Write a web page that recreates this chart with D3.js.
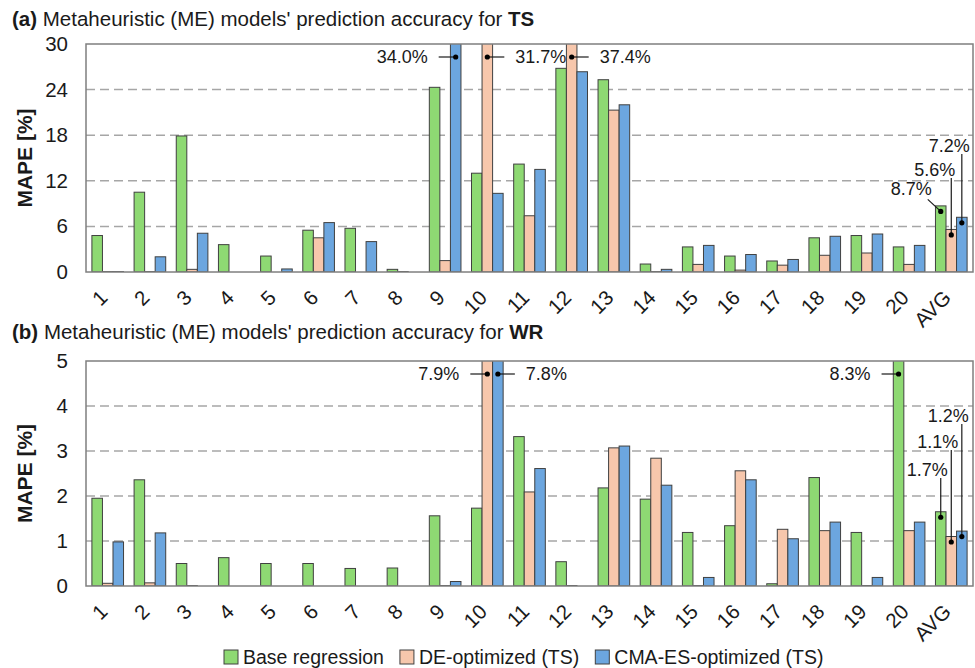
<!DOCTYPE html>
<html>
<head>
<meta charset="utf-8">
<script src="https://cdn.jsdelivr.net/npm/d3@7"></script>
<style>
  body { margin: 0; background: #fff; }
  text { font-family: "Liberation Sans", Arial, sans-serif; fill: #1a1a1a; }
</style>
</head>
<body>
<div class="container"></div>
<script>
// categories and series
const categories = ['1','2','3','4','5','6','7','8','9','10','11','12','13','14','15','16','17','18','19','20','AVG'];
const seriesNames = ['Base regression', 'DE-optimized (TS)', 'CMA-ES-optimized (TS)'];
const seriesColors = ['#8ed973', '#f7c7ac', '#6ca6df'];

// (a) TS, MAPE [%]
const tsBase = [4.8, 10.5, 17.9, 3.6, 2.1, 5.5, 5.75, 0.35, 24.3, 13.0, 14.2, 26.8, 25.3, 1.05, 3.3, 2.1, 1.45, 4.5, 4.8, 3.3, 8.7];
const tsDE   = [0.05, 0.05, 0.35, 0, 0, 4.5, 0, 0.05, 1.5, 31.7, 7.4, 37.4, 21.3, 0.05, 1.0, 0.25, 0.9, 2.2, 2.5, 1.0, 5.6];
const tsCMA  = [0.05, 2.0, 5.1, 0, 0.4, 6.5, 4.0, 0, 34.0, 10.35, 13.5, 26.35, 22.0, 0.35, 3.5, 2.3, 1.65, 4.7, 5.0, 3.5, 7.2];
const tsTicks = [0, 6, 12, 18, 24, 30];

// (b) WR, MAPE [%]
const wrBase = [1.95, 2.36, 0.5, 0.63, 0.5, 0.5, 0.39, 0.4, 1.56, 1.73, 3.32, 0.54, 2.18, 1.93, 1.19, 1.34, 0.05, 2.41, 1.19, 8.3, 1.65];
const wrDE   = [0.06, 0.07, 0.01, 0, 0, 0, 0, 0, 0.01, 7.9, 2.09, 0.01, 3.07, 2.84, 0.01, 2.56, 1.26, 1.23, 0.01, 1.23, 1.1];
const wrCMA  = [0.98, 1.18, 0, 0, 0, 0, 0, 0, 0.1, 7.8, 2.61, 0, 3.11, 2.24, 0.19, 2.36, 1.05, 1.42, 0.19, 1.42, 1.22];
const wrTicks = [0, 1, 2, 3, 4, 5];

// value callouts: [category, series index, label, placement]
const tsCallouts = [['9', 2, '34.0%', 'left'], ['10', 1, '31.7%', 'right'], ['12', 1, '37.4%', 'right'],
                    ['AVG', 0, '8.7%', 'diag'], ['AVG', 1, '5.6%', 'up1'], ['AVG', 2, '7.2%', 'up2']];
const wrCallouts = [['10', 1, '7.9%', 'left'], ['10', 2, '7.8%', 'right'], ['20', 0, '8.3%', 'left'],
                    ['AVG', 0, '1.7%', 'up0'], ['AVG', 1, '1.1%', 'up1'], ['AVG', 2, '1.2%', 'up2']];

const LEFT = 86, RIGHT = 973;

var display = function () {
  var svg = d3.select('.container').append('svg')
    .attr('width', 975)
    .attr('height', 668)

  drawPanel(svg, {
    id: 'a', top: 44, bottom: 272, max: 30, ticks: tsTicks,
    series: [tsBase, tsDE, tsCMA], callouts: tsCallouts,
    titleY: 26, tag: '(a)', target: 'TS',
    upPos: { diag: [-9, -16], up1: [4, 176], up2: [8, 152] }
  });
  drawPanel(svg, {
    id: 'b', top: 361, bottom: 586, max: 5, ticks: wrTicks,
    series: [wrBase, wrDE, wrCMA], callouts: wrCallouts,
    titleY: 339, tag: '(b)', target: 'WR',
    upPos: { up0: [7, 476], up1: [7, 448], up2: [7, 422] }
  });
  drawLegend(svg);
}

var drawPanel = function (svg, p) {
  var x = d3.scaleBand().domain(categories).range([LEFT, RIGHT])
    .paddingInner(0.25).paddingOuter(0.14);
  var xs = d3.scaleBand().domain([0, 1, 2]).range([0, x.bandwidth()]);
  var y = d3.scaleLinear().domain([0, p.max]).range([p.bottom, p.top]);

  // title
  var title = svg.append('text')
    .attr('x', 12).attr('y', p.titleY)
    .style('font-size', '20.5px')
  title.append('tspan').style('font-weight', 'bold').text(p.tag);
  title.append('tspan').text(" Metaheuristic (ME) models' prediction accuracy for ");
  title.append('tspan').style('font-weight', 'bold').text(p.target);

  // grid
  svg.append('g').selectAll('line')
    .data(p.ticks.filter(t => t > 0 && t < p.max))
    .join('line')
    .attr('x1', LEFT).attr('x2', RIGHT)
    .attr('y1', d => y(d)).attr('y2', d => y(d))
    .attr('stroke', '#a6a6a6')
    .attr('stroke-width', 1.5)
    .attr('stroke-dasharray', '9,5')

  // y axis labels
  var yAxis = d3.axisLeft(y).tickValues(p.ticks).tickFormat(d3.format('d')).tickSize(0).tickPadding(18);
  var ga = svg.append('g').attr('transform', 'translate(' + LEFT + ',0)').call(yAxis);
  ga.select('.domain').remove();
  ga.selectAll('text').style('font-size', '20.5px').attr('fill', '#1a1a1a');

  svg.append('text')
    .attr('transform', 'translate(32,' + (p.top + p.bottom) / 2 + ') rotate(-90)')
    .attr('text-anchor', 'middle')
    .style('font-size', '21px')
    .style('font-weight', 'bold')
    .text('MAPE [%]')

  // bars
  svg.append('clipPath').attr('id', 'clip-' + p.id)
    .append('rect')
    .attr('x', LEFT).attr('y', p.top)
    .attr('width', RIGHT - LEFT).attr('height', p.bottom - p.top)

  var rows = [];
  categories.forEach(function (c, i) {
    p.series.forEach(function (s, k) { rows.push({ cat: c, k: k, v: s[i] }); });
  });
  svg.append('g').attr('clip-path', 'url(#clip-' + p.id + ')')
    .selectAll('rect')
    .data(rows)
    .join('rect')
    .attr('x', d => x(d.cat) + xs(d.k))
    .attr('y', d => y(d.v))
    .attr('width', xs.bandwidth())
    .attr('height', d => p.bottom - y(d.v))
    .attr('fill', d => seriesColors[d.k])
    .attr('stroke', '#404040')
    .attr('stroke-width', 1)

  // frame
  svg.append('rect')
    .attr('x', LEFT).attr('y', p.top)
    .attr('width', RIGHT - LEFT).attr('height', p.bottom - p.top)
    .attr('fill', 'none')
    .attr('stroke', '#7f7f7f')
    .attr('stroke-width', 1.5)

  // x labels
  svg.append('g').selectAll('text')
    .data(categories)
    .join('text')
    .attr('transform', d => 'translate(' + (x(d) + x.bandwidth() / 2 + 1) + ',' + (p.bottom + 27) + ') rotate(-45)')
    .attr('text-anchor', 'end')
    .style('font-size', '20.5px')
    .text(d => d)

  // callouts
  var g = svg.append('g');
  p.callouts.forEach(function (c) {
    var ci = categories.indexOf(c[0]);
    var v = p.series[c[1]][ci];
    var cx = x(c[0]) + xs(c[1]) + xs.bandwidth() / 2;
    var cy, place = c[3];
    if (place === 'left' || place === 'right') {
      cy = p.top + 13;
      var dir = place === 'left' ? -1 : 1;
      g.append('line')
        .attr('x1', cx).attr('x2', cx + dir * 17)
        .attr('y1', cy).attr('y2', cy)
        .attr('stroke', '#1a1a1a').attr('stroke-width', 1.2)
      g.append('text')
        .attr('x', cx + dir * 28).attr('y', cy)
        .attr('dy', '0.35em')
        .attr('text-anchor', place === 'left' ? 'end' : 'start')
        .style('font-size', '18px')
        .text(c[2])
    } else {
      cy = y(v) + 5.5;
      var pos = p.upPos[place];
      if (place === 'diag') {
        g.append('line')
          .attr('x1', cx - 13).attr('y1', cy - 12)
          .attr('x2', cx).attr('y2', cy)
          .attr('stroke', '#1a1a1a').attr('stroke-width', 1.2)
        g.append('text')
          .attr('x', cx + pos[0]).attr('y', cy + pos[1])
          .attr('text-anchor', 'end')
          .style('font-size', '18px')
          .text(c[2])
      } else {
        g.append('line')
          .attr('x1', cx).attr('y1', pos[1] + 2)
          .attr('x2', cx).attr('y2', cy)
          .attr('stroke', '#1a1a1a').attr('stroke-width', 1.2)
        g.append('text')
          .attr('x', cx + pos[0]).attr('y', pos[1])
          .attr('text-anchor', 'end')
          .style('font-size', '18px')
          .text(c[2])
      }
    }
    g.append('circle')
      .attr('cx', cx).attr('cy', cy).attr('r', 2.6)
      .attr('fill', '#000')
  });
}

var drawLegend = function (svg) {
  var g = svg.append('g').attr('transform', 'translate(0,657)');
  var xPos = 224;
  seriesNames.forEach(function (name, k) {
    g.append('rect')
      .attr('x', xPos).attr('y', -7)
      .attr('width', 14).attr('height', 14)
      .attr('fill', seriesColors[k])
      .attr('stroke', '#404040')
      .attr('stroke-width', 1)
    var t = g.append('text')
      .attr('x', xPos + 19).attr('y', 0)
      .attr('dy', '0.35em')
      .style('font-size', '19.5px')
      .text(name)
    xPos += 19 + t.node().getComputedTextLength() + 16;
  });
}

window.onload = display;
</script>
</body>
</html>
